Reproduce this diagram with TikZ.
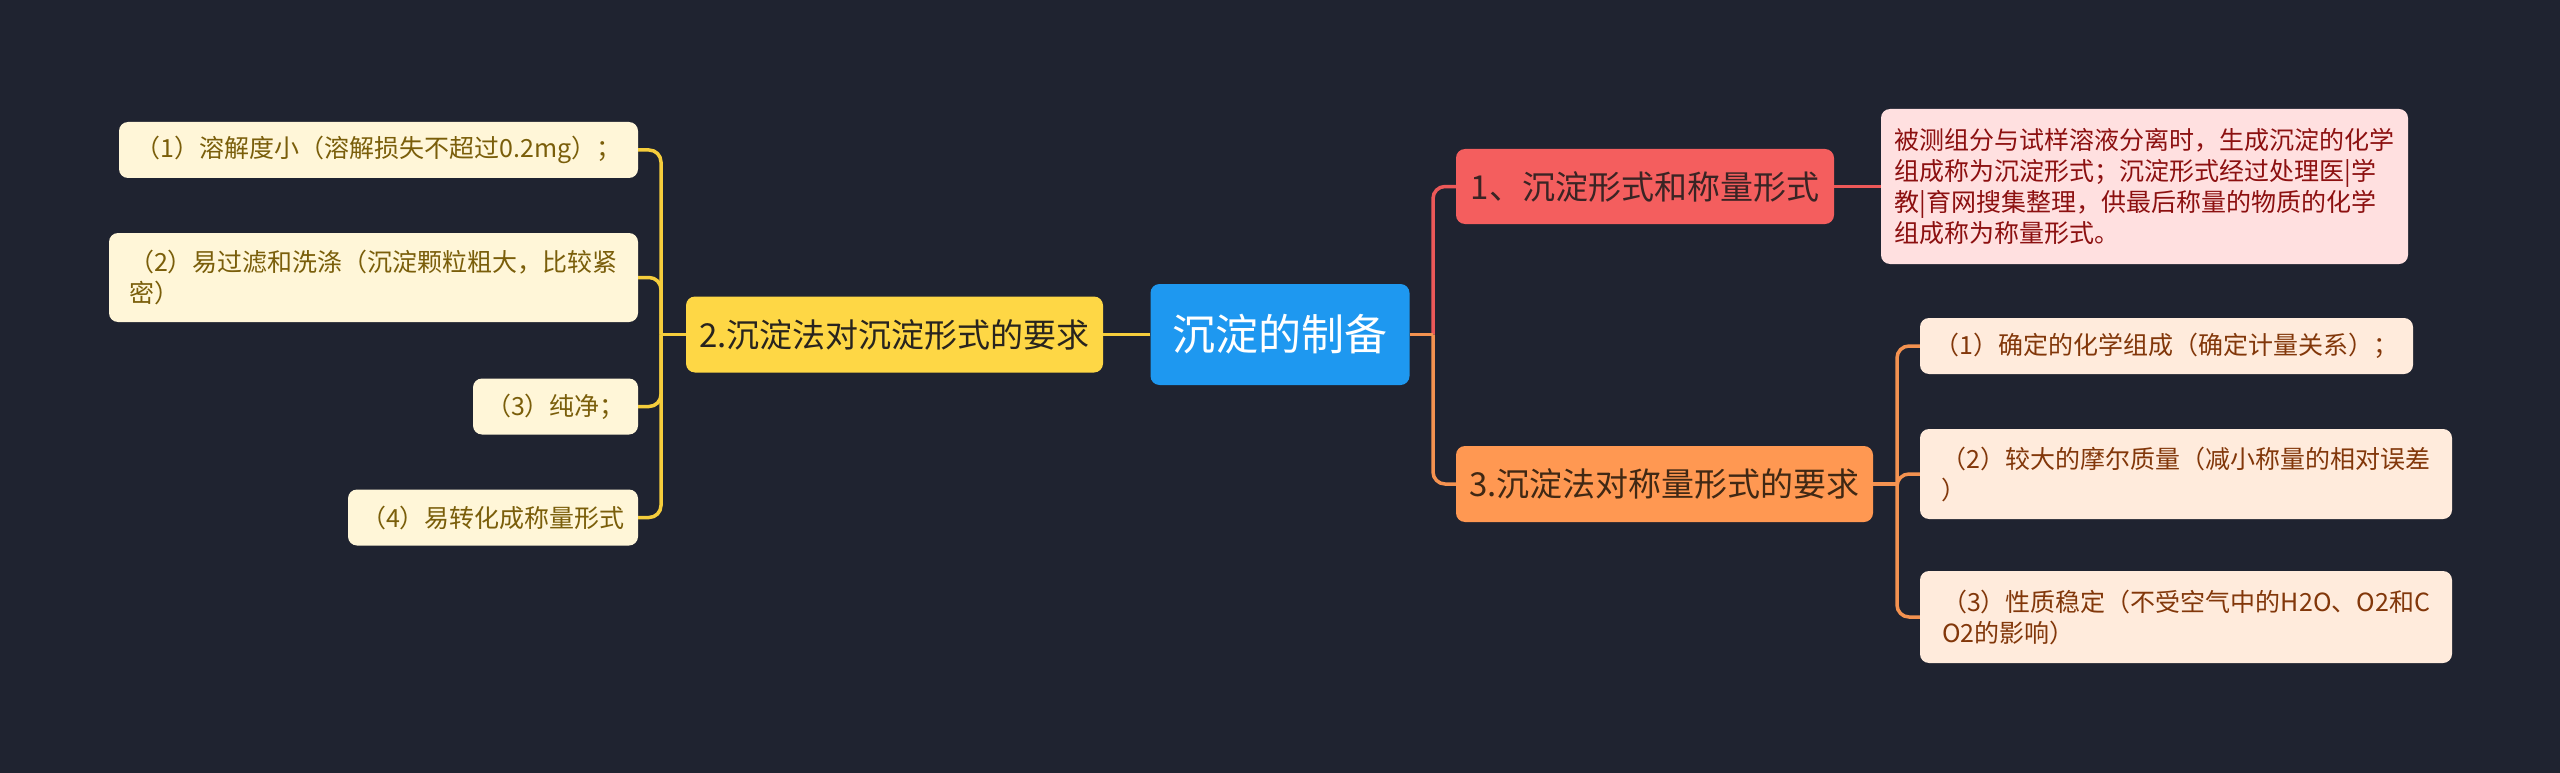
\documentclass[tikz,border=0pt]{standalone}
\usepackage{fontspec}
\setmainfont{Noto Sans CJK SC}
\definecolor{bg}{RGB}{31,35,48}
\definecolor{rootfill}{RGB}{30,152,240}
\definecolor{yfill}{RGB}{254,215,69}
\definecolor{yleaf}{RGB}{255,246,216}
\definecolor{ytext}{RGB}{122,94,10}
\definecolor{yline}{RGB}{245,205,60}
\definecolor{rfill}{RGB}{244,94,94}
\definecolor{rtext}{RGB}{58,36,36}
\definecolor{dfill}{RGB}{255,224,224}
\definecolor{dtext}{RGB}{140,16,16}
\definecolor{rline}{RGB}{236,88,88}
\definecolor{ofill}{RGB}{255,152,82}
\definecolor{otext}{RGB}{64,40,20}
\definecolor{oleaf}{RGB}{255,235,220}
\definecolor{oltext}{RGB}{130,55,10}
\definecolor{oline}{RGB}{244,146,80}
\definecolor{darktext}{RGB}{40,36,30}
\tikzset{
  box/.style={rectangle, rounded corners=9pt, inner sep=0pt, align=left},
  leaffont/.style={font=\fontsize{25}{31}\selectfont},
  midfont/.style={font=\fontsize{33}{40}\selectfont},
  rootbox/.style={box, fill=rootfill, text=white, font=\fontsize{43}{50}\selectfont},
  ybox/.style={box, fill=yfill, text=darktext, midfont},
  yleafbox/.style={box, fill=yleaf, text=ytext, leaffont},
  rbox/.style={box, fill=rfill, text=rtext, midfont},
  descbox/.style={box, fill=dfill, text=dtext, leaffont},
  obox/.style={box, fill=ofill, text=otext, midfont},
  oleafbox/.style={box, fill=oleaf, text=oltext, leaffont},
  conn/.style={line width=3.5pt},
  yconn/.style={conn, draw=yline},
  rconn/.style={conn, draw=rline},
  oconn/.style={conn, draw=oline},
}
\begin{document}
\begin{tikzpicture}[x=1pt, y=-1pt]
\fill[bg] (0,0) rectangle (2560,773);
\useasboundingbox (0,0) rectangle (2560,773);

% junctions
\coordinate (jY) at (661,334.5);
\coordinate (jR) at (1433,334.5);
\coordinate (jO) at (1897,484);

% root
\node[rootbox, minimum width=259pt, minimum height=101pt] (root) at (1280,334.5) {沉淀的制备};

% left branch
\node[ybox, minimum width=417pt, minimum height=76pt] (Y) at (894.5,334.5) {2.沉淀法对沉淀形式的要求};
\node[yleafbox, minimum width=519pt, minimum height=56pt] (L1) at (378.5,150) {（1）溶解度小（溶解损失不超过0.2mg）；};
\node[yleafbox, minimum width=529pt, minimum height=89pt] (L2) at (373.5,277.5) {（2）易过滤和洗涤（沉淀颗粒粗大，比较紧\\密）};
\node[yleafbox, minimum width=165pt, minimum height=56pt] (L3) at (555.5,406.5) {（3）纯净；};
\node[yleafbox, minimum width=290pt, minimum height=56pt] (L4) at (493,517.5) {（4）易转化成称量形式};

% right branch
\node[rbox, minimum width=378pt, minimum height=75pt] (R1) at (1645,186.5) {1、沉淀形式和称量形式};
\node[descbox, minimum width=527pt, minimum height=155pt] (D) at (2144.5,186.5) {被测组分与试样溶液分离时，生成沉淀的化学\\组成称为沉淀形式；沉淀形式经过处理医|学\\教|育网搜集整理，供最后称量的物质的化学\\组成称为称量形式。};
\node[obox, minimum width=417pt, minimum height=76pt] (R3) at (1664.5,484) {3.沉淀法对称量形式的要求};
\node[oleafbox, minimum width=493pt, minimum height=56pt] (C1) at (2166.5,346) {（1）确定的化学组成（确定计量关系）；};
\node[oleafbox, minimum width=532pt, minimum height=90pt] (C2) at (2186,474) {（2）较大的摩尔质量（减小称量的相对误差\\）};
\node[oleafbox, minimum width=532pt, minimum height=92pt] (C3) at (2186,617) {（3）性质稳定（不受空气中的H2O、O2和C\\O2的影响）};

% connectors
\draw[yconn] (root.west) -- (Y.east);
\draw[yconn] (Y.west) -- (jY);
\draw[yconn, rounded corners=12pt] (jY) |- (L1.east);
\draw[yconn, rounded corners=12pt] (jY) |- (L2.east);
\draw[yconn, rounded corners=12pt] (jY) |- (L3.east);
\draw[yconn, rounded corners=12pt] (jY) |- (L4.east);

\draw[rconn, rounded corners=12pt] (jR) |- (R1.west);
\draw[rconn] (R1.east) -- (D.west);
\draw[oconn] (root.east) -- (jR);
\draw[oconn, rounded corners=12pt] (jR) |- (R3.west);

\draw[oconn] (R3.east) -- (jO);
\draw[oconn, rounded corners=12pt] (jO) |- (C1.west);
\draw[oconn, rounded corners=12pt] (jO) |- (C2.west);
\draw[oconn, rounded corners=12pt] (jO) |- (C3.west);
\end{tikzpicture}
\end{document}
